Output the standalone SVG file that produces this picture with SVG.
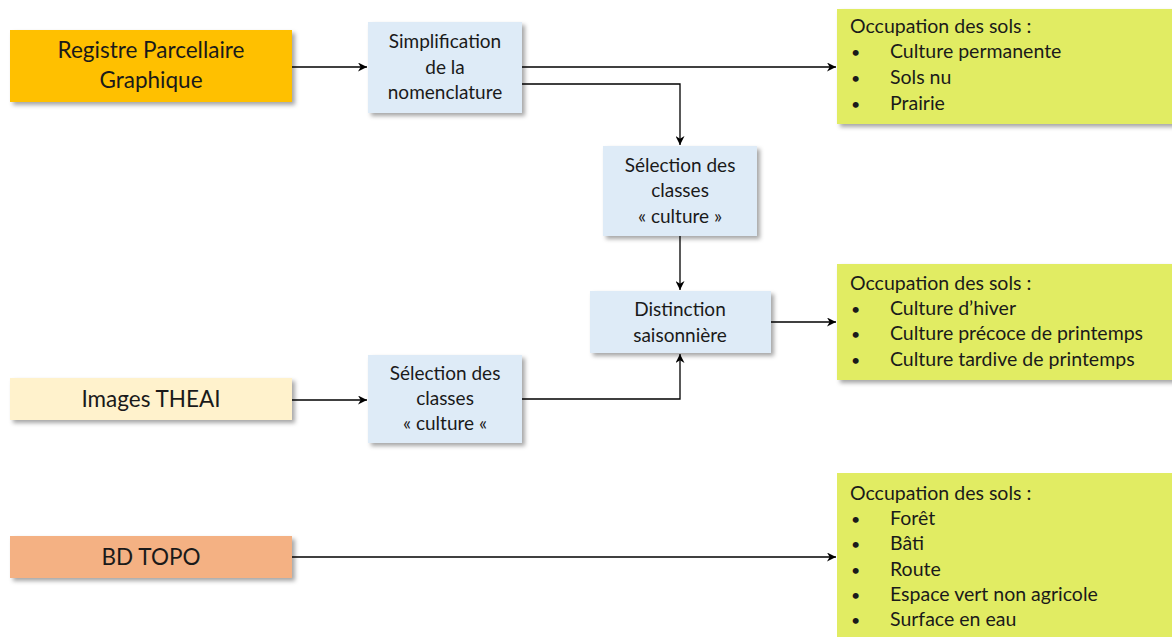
<svg xmlns="http://www.w3.org/2000/svg" width="1172" height="637" viewBox="0 0 1172 637">
<style>
text{font-family:Lato,"Open Sans","Liberation Sans",sans-serif;font-size:19px;fill:#1a1a1a}
.c{text-anchor:middle}
.big{font-size:22.5px}
.r{font-size:19.5px}
.b{font-size:16px}
.blue{fill:#DEEBF7}
.green{fill:#E1EC63}
.line{stroke:#000;stroke-width:1.3;fill:none}
</style>
<defs>
<filter id="sh" x="-10%" y="-10%" width="125%" height="130%">
<feDropShadow dx="3" dy="3" stdDeviation="2" flood-color="#000" flood-opacity="0.35"/>
</filter>
<marker id="ar" viewBox="0 0 10 10" refX="10" refY="5" markerWidth="9" markerHeight="9" markerUnits="userSpaceOnUse" orient="auto">
<path d="M0,0 L10,5 L0,10 L3,5 Z" fill="#000"/>
</marker>
</defs>
<rect width="1172" height="637" fill="#fff"/>
<g id="connectors">
<path class="line" d="M292,67 H367" marker-end="url(#ar)"/>
<path class="line" d="M522,67 H836" marker-end="url(#ar)"/>
<path class="line" d="M522,84 H680 V145" marker-end="url(#ar)"/>
<path class="line" d="M680,236 V290" marker-end="url(#ar)"/>
<path class="line" d="M771,322 H836" marker-end="url(#ar)"/>
<path class="line" d="M292,400 H367" marker-end="url(#ar)"/>
<path class="line" d="M522,399 H680 V354" marker-end="url(#ar)"/>
<path class="line" d="M292,557 H836" marker-end="url(#ar)"/>
</g>
<g id="rpg">
<rect x="10" y="30" width="282" height="72" fill="#FFC000" filter="url(#sh)"/>
<text class="c big" x="151" y="58">Registre Parcellaire</text>
<text class="c big" x="151" y="88">Graphique</text>
</g>
<g id="simplification">
<rect class="blue" x="368" y="22" width="154" height="91" filter="url(#sh)"/>
<text class="c" x="445" y="48">Simplification</text>
<text class="c" x="445" y="74">de la</text>
<text class="c" x="445" y="99">nomenclature</text>
</g>
<g id="selection1">
<rect class="blue" x="603" y="146" width="154" height="90" filter="url(#sh)"/>
<text class="c" x="680" y="172">Sélection des</text>
<text class="c" x="680" y="197">classes</text>
<text class="c" x="680" y="223">« culture »</text>
</g>
<g id="distinction">
<rect class="blue" x="590" y="291" width="181" height="62" filter="url(#sh)"/>
<text class="c" x="680" y="316">Distinction</text>
<text class="c" x="680" y="342">saisonnière</text>
</g>
<g id="theai">
<rect x="10" y="378" width="282" height="42" fill="#FFF2CC" filter="url(#sh)"/>
<text class="c big" x="151" y="407">Images THEAI</text>
</g>
<g id="selection2">
<rect class="blue" x="368" y="355" width="154" height="88" filter="url(#sh)"/>
<text class="c" x="445" y="380">Sélection des</text>
<text class="c" x="445" y="405">classes</text>
<text class="c" x="445" y="430">« culture «</text>
</g>
<g id="bdtopo">
<rect x="10" y="536" width="282" height="42" fill="#F4B183" filter="url(#sh)"/>
<text class="c big" x="151" y="565">BD TOPO</text>
</g>
<g id="occ1">
<rect class="green" x="837" y="9" width="340" height="115" filter="url(#sh)"/>
<text class="r" x="850" y="33">Occupation des sols :</text>
<text class="b" x="851" y="58">•</text><text class="r" x="890" y="58">Culture permanente</text>
<text class="b" x="851" y="84">•</text><text class="r" x="890" y="84">Sols nu</text>
<text class="b" x="851" y="110">•</text><text class="r" x="890" y="110">Prairie</text>
</g>
<g id="occ2">
<rect class="green" x="837" y="264" width="340" height="116" filter="url(#sh)"/>
<text class="r" x="850" y="290">Occupation des sols :</text>
<text class="b" x="851" y="315">•</text><text class="r" x="890" y="315">Culture d’hiver</text>
<text class="b" x="851" y="340">•</text><text class="r" x="890" y="340">Culture précoce de printemps</text>
<text class="b" x="851" y="366">•</text><text class="r" x="890" y="366">Culture tardive de printemps</text>
</g>
<g id="occ3">
<rect class="green" x="837" y="473" width="340" height="170"/>
<text class="r" x="850" y="500">Occupation des sols :</text>
<text class="b" x="851" y="525">•</text><text class="r" x="890" y="525">Forêt</text>
<text class="b" x="851" y="550">•</text><text class="r" x="890" y="550">Bâti</text>
<text class="b" x="851" y="576">•</text><text class="r" x="890" y="576">Route</text>
<text class="b" x="851" y="601">•</text><text class="r" x="890" y="601">Espace vert non agricole</text>
<text class="b" x="851" y="626">•</text><text class="r" x="890" y="626">Surface en eau</text>
</g>
</svg>
